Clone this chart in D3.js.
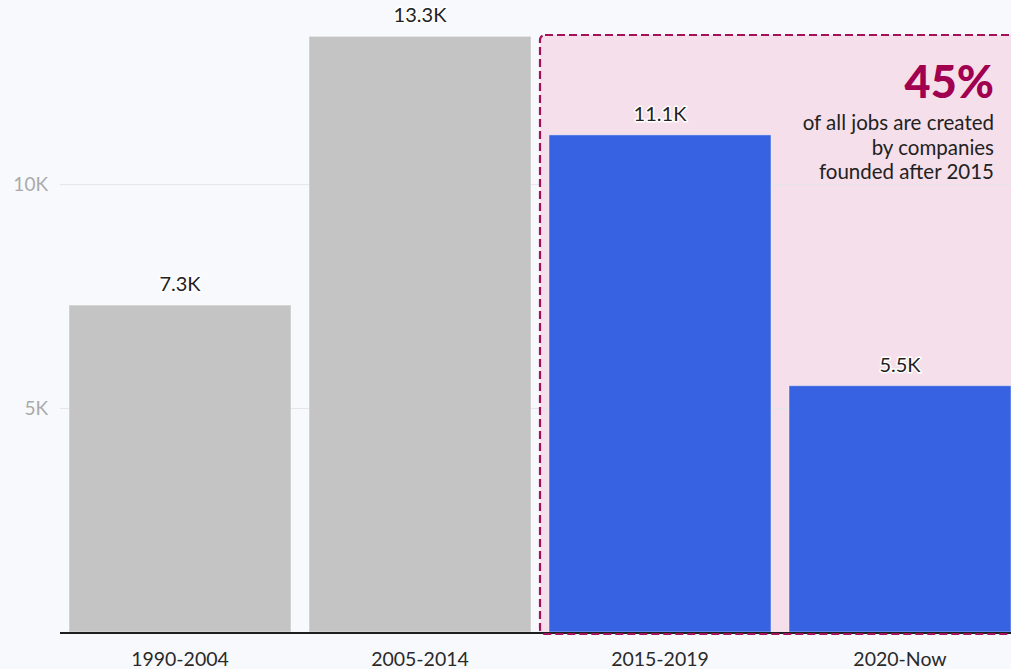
<!DOCTYPE html>
<html>
<head>
<meta charset="utf-8">
<script src="https://cdn.jsdelivr.net/npm/d3@7"></script>
<style>
  html, body { margin: 0; padding: 0; background: #f8f9fd; }
  svg { display: block; font-family: "Lato", "Noto Sans", sans-serif; }
</style>
</head>
<body>
<svg id="chart" width="1011" height="669"></svg>
<script>
// Jobs created, by company founding period (thousands)
const categories = ["1990-2004", "2005-2014", "2015-2019", "2020-Now"];
const jobs = [7.3, 13.3, 11.1, 5.5];
const highlighted = ["2015-2019", "2020-Now"];
const yTicks = [5, 10];
const calloutValue = "45%";
const calloutLines = ["of all jobs are created", "by companies", "founded after 2015"];

const W = 1011, H = 669;
const margin = { left: 60, right: -9, top: 5, bottom: 37 };

const svg = d3.select("#chart");

const x = d3.scaleBand()
  .domain(categories)
  .range([margin.left, W - margin.right])
  .paddingInner(0.075)
  .paddingOuter(0.0375);

const y = d3.scaleLinear()
  .domain([0, 14])
  .range([H - margin.bottom, margin.top]);

const gapHalf = x.step() * x.paddingInner() / 2;

// Highlight panel behind the recent periods
const boxX = x(highlighted[0]) - gapHalf;
const boxTop = 35;
const boxBottom = y(0) + 2;
svg.append("rect")
  .attr("x", boxX)
  .attr("y", boxTop)
  .attr("width", W + 20 - boxX)
  .attr("height", boxBottom - boxTop)
  .attr("rx", 5)
  .attr("fill", "#f5dfea");

// Gridlines and tick labels
const yAxis = svg.append("g")
  .attr("transform", `translate(${margin.left},0)`)
  .call(d3.axisLeft(y)
    .tickValues(yTicks)
    .tickSize(-(W - margin.left))
    .tickPadding(12)
    .tickFormat(d => d + "K"));
yAxis.select(".domain").remove();
yAxis.selectAll(".tick line").attr("stroke", "#e4e5ea").attr("stroke-width", 1);
yAxis.selectAll(".tick text")
  .attr("fill", "#aaaaaa")
  .attr("font-size", 19)
  .attr("font-family", "Lato, 'Noto Sans', sans-serif");

// Bars
svg.append("g").selectAll("rect")
  .data(categories)
  .join("rect")
  .attr("x", d => x(d))
  .attr("y", (d, i) => y(jobs[i]))
  .attr("width", x.bandwidth())
  .attr("height", (d, i) => y(0) - y(jobs[i]))
  .attr("fill", d => highlighted.includes(d) ? "#3763e2" : "#c4c4c4")
  .attr("stroke", "rgba(255,255,255,0.45)")
  .attr("stroke-width", 1);

// Value labels with halo
svg.append("g").selectAll("text")
  .data(categories)
  .join("text")
  .attr("x", d => x(d) + x.bandwidth() / 2)
  .attr("y", (d, i) => y(jobs[i]) - 14)
  .attr("text-anchor", "middle")
  .attr("font-size", 20)
  .attr("fill", "#222")
  .attr("stroke", "#ffffff")
  .attr("stroke-width", 3)
  .attr("stroke-linejoin", "round")
  .attr("paint-order", "stroke")
  .text((d, i) => jobs[i].toFixed(1) + "K");

// Baseline
svg.append("line")
  .attr("x1", margin.left)
  .attr("x2", W)
  .attr("y1", y(0) + 1)
  .attr("y2", y(0) + 1)
  .attr("stroke", "#1e1e1e")
  .attr("stroke-width", 2);

// Category labels
svg.append("g").selectAll("text")
  .data(categories)
  .join("text")
  .attr("x", d => x(d) + x.bandwidth() / 2)
  .attr("y", 666)
  .attr("text-anchor", "middle")
  .attr("font-size", 19.5)
  .attr("fill", "#2a2a2a")
  .text(d => d);

// Dashed border of the highlight panel
svg.append("rect")
  .attr("x", boxX)
  .attr("y", boxTop)
  .attr("width", W + 20 - boxX)
  .attr("height", boxBottom - boxTop)
  .attr("rx", 5)
  .attr("fill", "none")
  .attr("stroke", "#a3105b")
  .attr("stroke-width", 2.2)
  .attr("stroke-dasharray", "8,4");

// Callout
const calloutX = 994;
svg.append("text")
  .attr("x", calloutX)
  .attr("y", 98)
  .attr("text-anchor", "end")
  .attr("font-size", 45)
  .attr("font-weight", 900)
  .attr("fill", "#a0004f")
  .text(calloutValue);

svg.append("g").selectAll("text")
  .data(calloutLines)
  .join("text")
  .attr("x", calloutX)
  .attr("y", (d, i) => 130 + i * 24.5)
  .attr("text-anchor", "end")
  .attr("font-size", 20.5)
  .attr("fill", "#222")
  .text(d => d);
</script>
</body>
</html>
